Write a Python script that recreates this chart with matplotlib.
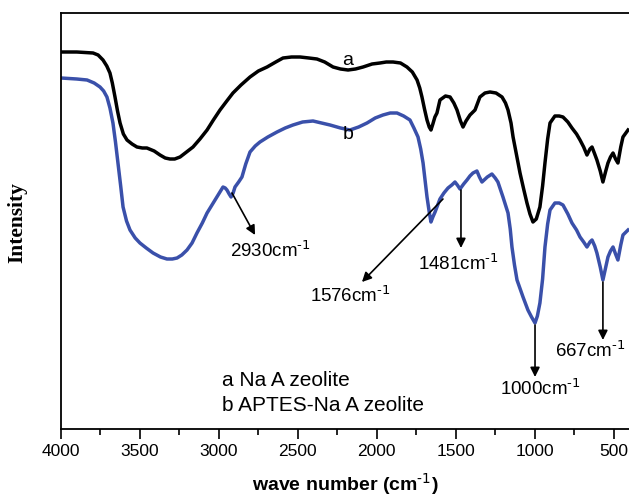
import matplotlib
matplotlib.use("Agg")
import matplotlib.pyplot as plt
from matplotlib.ticker import MultipleLocator

plt.rcParams['font.family'] = ['Liberation Sans', 'DejaVu Sans']
plt.rcParams['mathtext.default'] = 'regular'

# Sample a: Na A zeolite (wavenumber, intensity a.u.)
wn_a = [4000, 3900, 3797, 3765, 3734, 3710, 3690, 3675, 3658, 3642, 3626, 3605, 3582,
        3550, 3519, 3485, 3456, 3410, 3373, 3340, 3310, 3280, 3246, 3205, 3164, 3120,
        3075, 3035, 2993, 2950, 2911, 2860, 2803, 2750, 2695, 2640, 2594, 2540, 2486,
        2430, 2379, 2330, 2277, 2230, 2182, 2135, 2087, 2030, 1980, 1940, 1897, 1850,
        1809, 1775, 1745, 1728, 1714, 1698, 1682, 1668, 1657, 1645, 1632, 1619, 1600,
        1565, 1536, 1512, 1492, 1470, 1454, 1435, 1410, 1378, 1347, 1315, 1283, 1245,
        1207, 1185, 1169, 1150, 1137, 1115, 1093, 1070, 1049, 1030, 1011, 990, 967, 950,
        935, 918, 903, 872, 845, 821, 790, 764, 735, 713, 690, 669, 650, 637, 620, 606,
        585, 568, 550, 536, 520, 504, 488, 473, 455, 441, 409]
int_a = [377, 377, 376, 374, 369, 363, 356, 346, 332, 318, 306, 295, 289,
         285, 282, 281, 281, 278, 274, 271, 270, 270, 272, 277, 282, 290,
         299, 309, 319, 328, 336, 344, 352, 358, 362, 367, 371, 372, 372,
         371, 370, 367, 362, 360, 359, 360, 362, 365, 366, 367, 367, 366,
         362, 357, 349, 341, 332, 320, 309, 302, 299, 305, 312, 316, 329,
         333, 332, 326, 319, 308, 302, 308, 314, 319, 332, 336, 337, 336,
         332, 326, 319, 306, 292, 274, 256, 240, 226, 215, 207, 210, 222, 243,
         266, 290, 306, 313, 313, 312, 307, 301, 295, 289, 282, 274, 280, 282, 275, 269,
         258, 247, 258, 266, 272, 276, 270, 266, 282, 292, 299]

# Sample b: APTES-Na A zeolite
wn_b = [4000, 3900, 3835, 3790, 3753, 3730, 3709, 3690, 3671, 3655, 3639, 3622, 3607,
        3585, 3563, 3530, 3500, 3460, 3417, 3370, 3329, 3295, 3265, 3235, 3202, 3170,
        3139, 3105, 3075, 3040, 3012, 2990, 2974, 2960, 2949, 2935, 2923, 2910, 2898,
        2875, 2854, 2830, 2803, 2770, 2740, 2690, 2632, 2580, 2531, 2470, 2404, 2350,
        2296, 2230, 2170, 2115, 2062, 2010, 1961, 1915, 1872, 1830, 1790, 1765, 1739,
        1722, 1707, 1695, 1682, 1668, 1657, 1645, 1631, 1600, 1575, 1549, 1525, 1505,
        1490, 1473, 1450, 1429, 1410, 1391, 1366, 1350, 1334, 1300, 1271, 1250, 1233,
        1201, 1185, 1169, 1155, 1144, 1128, 1112, 1090, 1074, 1060, 1043, 1020, 998,
        983, 967, 950, 935, 918, 903, 872, 845, 821, 790, 764, 735, 713, 690, 669, 650,
        637, 620, 606, 585, 568, 550, 536, 520, 504, 488, 473, 455, 441, 409]
int_b = [351, 350, 349, 346, 342, 338, 332, 321, 306, 287, 266, 243, 222,
         208, 199, 191, 186, 181, 176, 172, 170, 170, 171, 174, 179, 186,
         196, 206, 216, 225, 232, 238, 242, 241, 239, 235, 232, 236, 242,
         247, 252, 265, 277, 283, 287, 292, 297, 301, 304, 307, 308, 306,
         304, 301, 299, 302, 306, 311, 314, 316, 316, 313, 309, 301, 292,
         280, 266, 250, 232, 217, 207, 212, 217, 230, 236, 241, 244, 247,
         244, 240, 245, 249, 253, 256, 258, 252, 247, 252, 255, 251, 247,
         232, 224, 216, 200, 182, 164, 149, 139, 132, 126, 119, 112, 106,
         113, 126, 150, 182, 205, 219, 226, 226, 224, 215, 206, 199, 192, 187, 182, 187,
         189, 183, 176, 162, 149, 162, 172, 178, 182, 175, 169, 184, 194, 199]

xticks = [4000, 3500, 3000, 2500, 2000, 1500, 1000, 500]

SUP = r'$^{\text{-1}}$'
# Peak annotations: label, arrow tail (wn, int), arrow head (wn, int), text (wn, int)
peak_labels = ['2930cm' + SUP, '1576cm' + SUP, '1481cm' + SUP, '1000cm' + SUP, '667cm' + SUP]
tail_xy = [(2917, 236), (1581, 230), (1467, 239), (998, 104), (568, 147)]
head_xy = [(2771, 194), (2094, 147), (1467, 181), (998, 52), (568, 89)]
text_xy = [(2676, 178), (2170, 133), (1486, 165), (967, 40), (650, 78)]

legend_lines = ['a Na A zeolite', 'b APTES-Na A zeolite']

fig = plt.figure(figsize=(6.29, 4.98), dpi=100)
ax = fig.add_axes([61/629, 69/498, 571.6/629, 416.3/498])

ax.plot(wn_a, int_a, color='black', lw=2.5, solid_joinstyle='round')
ax.plot(wn_b, int_b, color='#3a50aa', lw=2.5, solid_joinstyle='round')

ax.set_xlim(4000, 380)
ax.set_ylim(0, 416.3)
ax.set_xticks(xticks)
ax.xaxis.set_minor_locator(MultipleLocator(250))
ax.tick_params(axis='x', which='major', direction='out', length=7, width=1.2,
               labelsize=12.5, pad=4)
ax.tick_params(axis='x', which='minor', direction='out', length=4, width=1.2)
ax.set_yticks([])
for s in ax.spines.values():
    s.set_linewidth(1.3)

ax.text(2182, 369, 'a', fontsize=14, ha='center', va='center')
ax.text(2182, 295, 'b', fontsize=14, ha='center', va='center')

for lab, t, h, p in zip(peak_labels, tail_xy, head_xy, text_xy):
    ax.annotate('', xy=h, xytext=t,
                arrowprops=dict(arrowstyle='-|>', color='black', lw=1.2,
                                mutation_scale=14, shrinkA=0, shrinkB=0))
    ax.text(p[0], p[1], lab, fontsize=13.5, ha='center', va='center')

ax.text(2980, 49, legend_lines[0], fontsize=15, ha='left', va='center')
ax.text(2980, 24, legend_lines[1], fontsize=15, ha='left', va='center')

fig.text(345/629, 1/498, 'wave number (cm' + SUP + ')', fontsize=14,
         fontweight='bold', ha='center', va='bottom')
fig.text(17/629, 1 - 223/498, 'Intensity', fontsize=15.5, fontweight='bold',
         family=['Liberation Serif', 'DejaVu Serif'], rotation=90,
         ha='center', va='center')

fig.savefig('out.png', dpi=100)
